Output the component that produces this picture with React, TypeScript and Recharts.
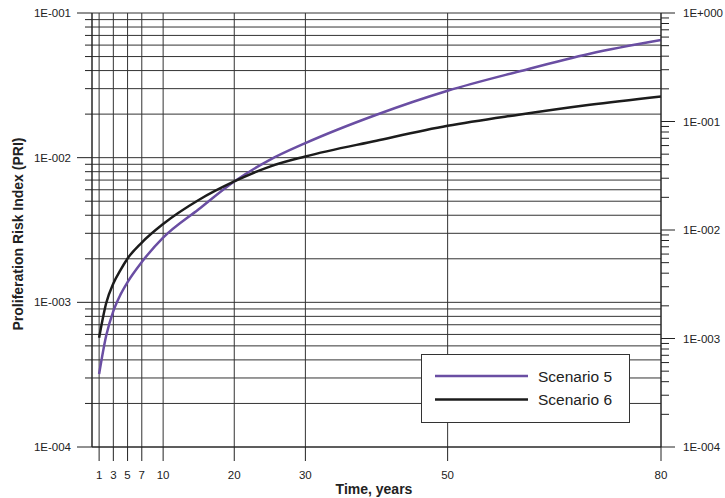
import { LineChart, Line, XAxis, YAxis, CartesianGrid, Legend, Label } from "recharts";

// values
const years = [1, 2, 3, 4, 5, 7, 10, 15, 20, 25, 30, 40, 50, 60, 70, 80];
const scenario5 = [3.2e-4, 5.9e-4, 8.7e-4, 1.13e-3, 1.38e-3, 1.9e-3, 2.8e-3, 4.4e-3, 6.85e-3, 9.66e-3, 1.26e-2, 1.98e-2, 2.9e-2, 3.94e-2, 5.23e-2, 6.5e-2];
const scenario6 = [5.7e-4, 9.9e-4, 1.35e-3, 1.67e-3, 2.01e-3, 2.59e-3, 3.48e-3, 5.1e-3, 6.85e-3, 8.68e-3, 1.02e-2, 1.31e-2, 1.66e-2, 1.98e-2, 2.32e-2, 2.65e-2];

const xTicks = [1, 3, 5, 7, 10, 20, 30, 50, 80];
const leftDecades = [1e-4, 1e-3, 1e-2, 1e-1];
const rightDecades = [1e-4, 1e-3, 1e-2, 1e-1, 1];
const minorSteps = [2, 3, 4, 5, 6, 7, 8, 9];

const data = years.map((t, i) => ({ t, s5: scenario5[i], s6: scenario6[i] }));

const FONT = "'Liberation Sans', Arial, sans-serif";
const INK = "#222";

function logTicks(decades: number[]) {
  const out: number[] = [];
  decades.forEach((d, i) => {
    out.push(d);
    if (i < decades.length - 1) minorSteps.forEach((m) => out.push(+(d * m).toPrecision(3)));
  });
  return out;
}

const isMajor = (v: number) => Math.abs(Math.log10(v) - Math.round(Math.log10(v))) < 1e-6;

function fmtExp(v: number) {
  const e = Math.round(Math.log10(v));
  return `1E${e < 0 ? "-" : "+"}${String(Math.abs(e)).padStart(3, "0")}`;
}

function LeftTick({ x, y, payload }: any) {
  const major = isMajor(payload.value);
  return (
    <g>
      <line x1={x - (major ? 15 : 7)} x2={x} y1={y} y2={y} stroke={INK} strokeWidth={1} />
      {major && (
        <text x={x - 21} y={y} textAnchor="end" dominantBaseline="central" fontSize={11.5} fontFamily={FONT} fill={INK}>
          {fmtExp(payload.value)}
        </text>
      )}
    </g>
  );
}

function RightTick({ x, y, payload }: any) {
  const major = isMajor(payload.value);
  return (
    <g>
      <line x1={x} x2={x + (major ? 14 : 8)} y1={y} y2={y} stroke={INK} strokeWidth={1} />
      {major && (
        <text x={x + 22} y={y} textAnchor="start" dominantBaseline="central" fontSize={11.5} fontFamily={FONT} fill={INK}>
          {fmtExp(payload.value)}
        </text>
      )}
    </g>
  );
}

function LegendBox({ payload }: any) {
  return (
    <div style={{ width: 209, height: 69, boxSizing: "border-box", border: "1px solid #333", background: "#fff" }}>
      <svg width={207} height={67}>
        {(payload || []).map((p: any, i: number) => (
          <g key={p.value}>
            <line x1={13} x2={106} y1={21 + i * 23.6} y2={21 + i * 23.6} stroke={p.color} strokeWidth={2.5} />
            <text x={116} y={21 + i * 23.6} dominantBaseline="central" fontSize={15.5} fontFamily={FONT} fill={INK}>
              {p.value}
            </text>
          </g>
        ))}
      </svg>
    </div>
  );
}

export default function App() {
  return (
    <div style={{ position: "absolute", left: 0, top: 0 }}>
      <LineChart width={725} height={498} data={data} margin={{ top: 13, right: 0, bottom: 0, left: 0 }}>
        <CartesianGrid yAxisId="left" stroke="#333" strokeWidth={1} />
        <XAxis
          dataKey="t"
          type="number"
          domain={[0, 80]}
          ticks={xTicks}
          interval={0}
          height={51}
          tickSize={14}
          tickMargin={10}
          axisLine={{ stroke: INK }}
          tickLine={{ stroke: INK }}
          tick={{ fontSize: 11.5, fontFamily: FONT, fill: INK }}
        >
          <Label
            content={() => (
              <text x={374} y={494} textAnchor="middle" fontSize={14} fontWeight="bold" fontFamily={FONT} fill={INK}>
                Time, years
              </text>
            )}
          />
        </XAxis>
        <YAxis
          yAxisId="left"
          type="number"
          scale="log"
          domain={[1e-4, 1e-1]}
          allowDataOverflow
          ticks={logTicks(leftDecades)}
          interval={0}
          width={92}
          tickSize={0}
          tickMargin={0}
          tickLine={false}
          axisLine={{ stroke: INK }}
          tick={(props: any) => <LeftTick {...props} />}
        >
          <Label
            content={() => (
              <text
                x={18}
                y={234}
                transform="rotate(-90 18 234)"
                textAnchor="middle"
                dominantBaseline="central"
                fontSize={14}
                fontWeight="bold"
                fontFamily={FONT}
                fill={INK}
              >
                Proliferation Risk Index (PRI)
              </text>
            )}
          />
        </YAxis>
        <YAxis
          yAxisId="right"
          orientation="right"
          type="number"
          scale="log"
          domain={[1e-4, 1]}
          allowDataOverflow
          ticks={logTicks(rightDecades)}
          interval={0}
          width={64}
          tickSize={0}
          tickMargin={0}
          tickLine={false}
          axisLine={{ stroke: INK }}
          tick={(props: any) => <RightTick {...props} />}
        />
        <Line
          yAxisId="left"
          type="monotone"
          dataKey="s5"
          name="Scenario 5"
          stroke="#6a4ea3"
          strokeWidth={2.5}
          dot={false}
          isAnimationActive={false}
        />
        <Line
          yAxisId="left"
          type="monotone"
          dataKey="s6"
          name="Scenario 6"
          stroke="#1c1c1c"
          strokeWidth={2.5}
          dot={false}
          isAnimationActive={false}
        />
        <Legend
          layout="vertical"
          align="center"
          verticalAlign="middle"
          wrapperStyle={{ left: 421, top: 354, width: 209, height: 69 }}
          content={(props: any) => <LegendBox {...props} />}
        />
      </LineChart>
    </div>
  );
}
